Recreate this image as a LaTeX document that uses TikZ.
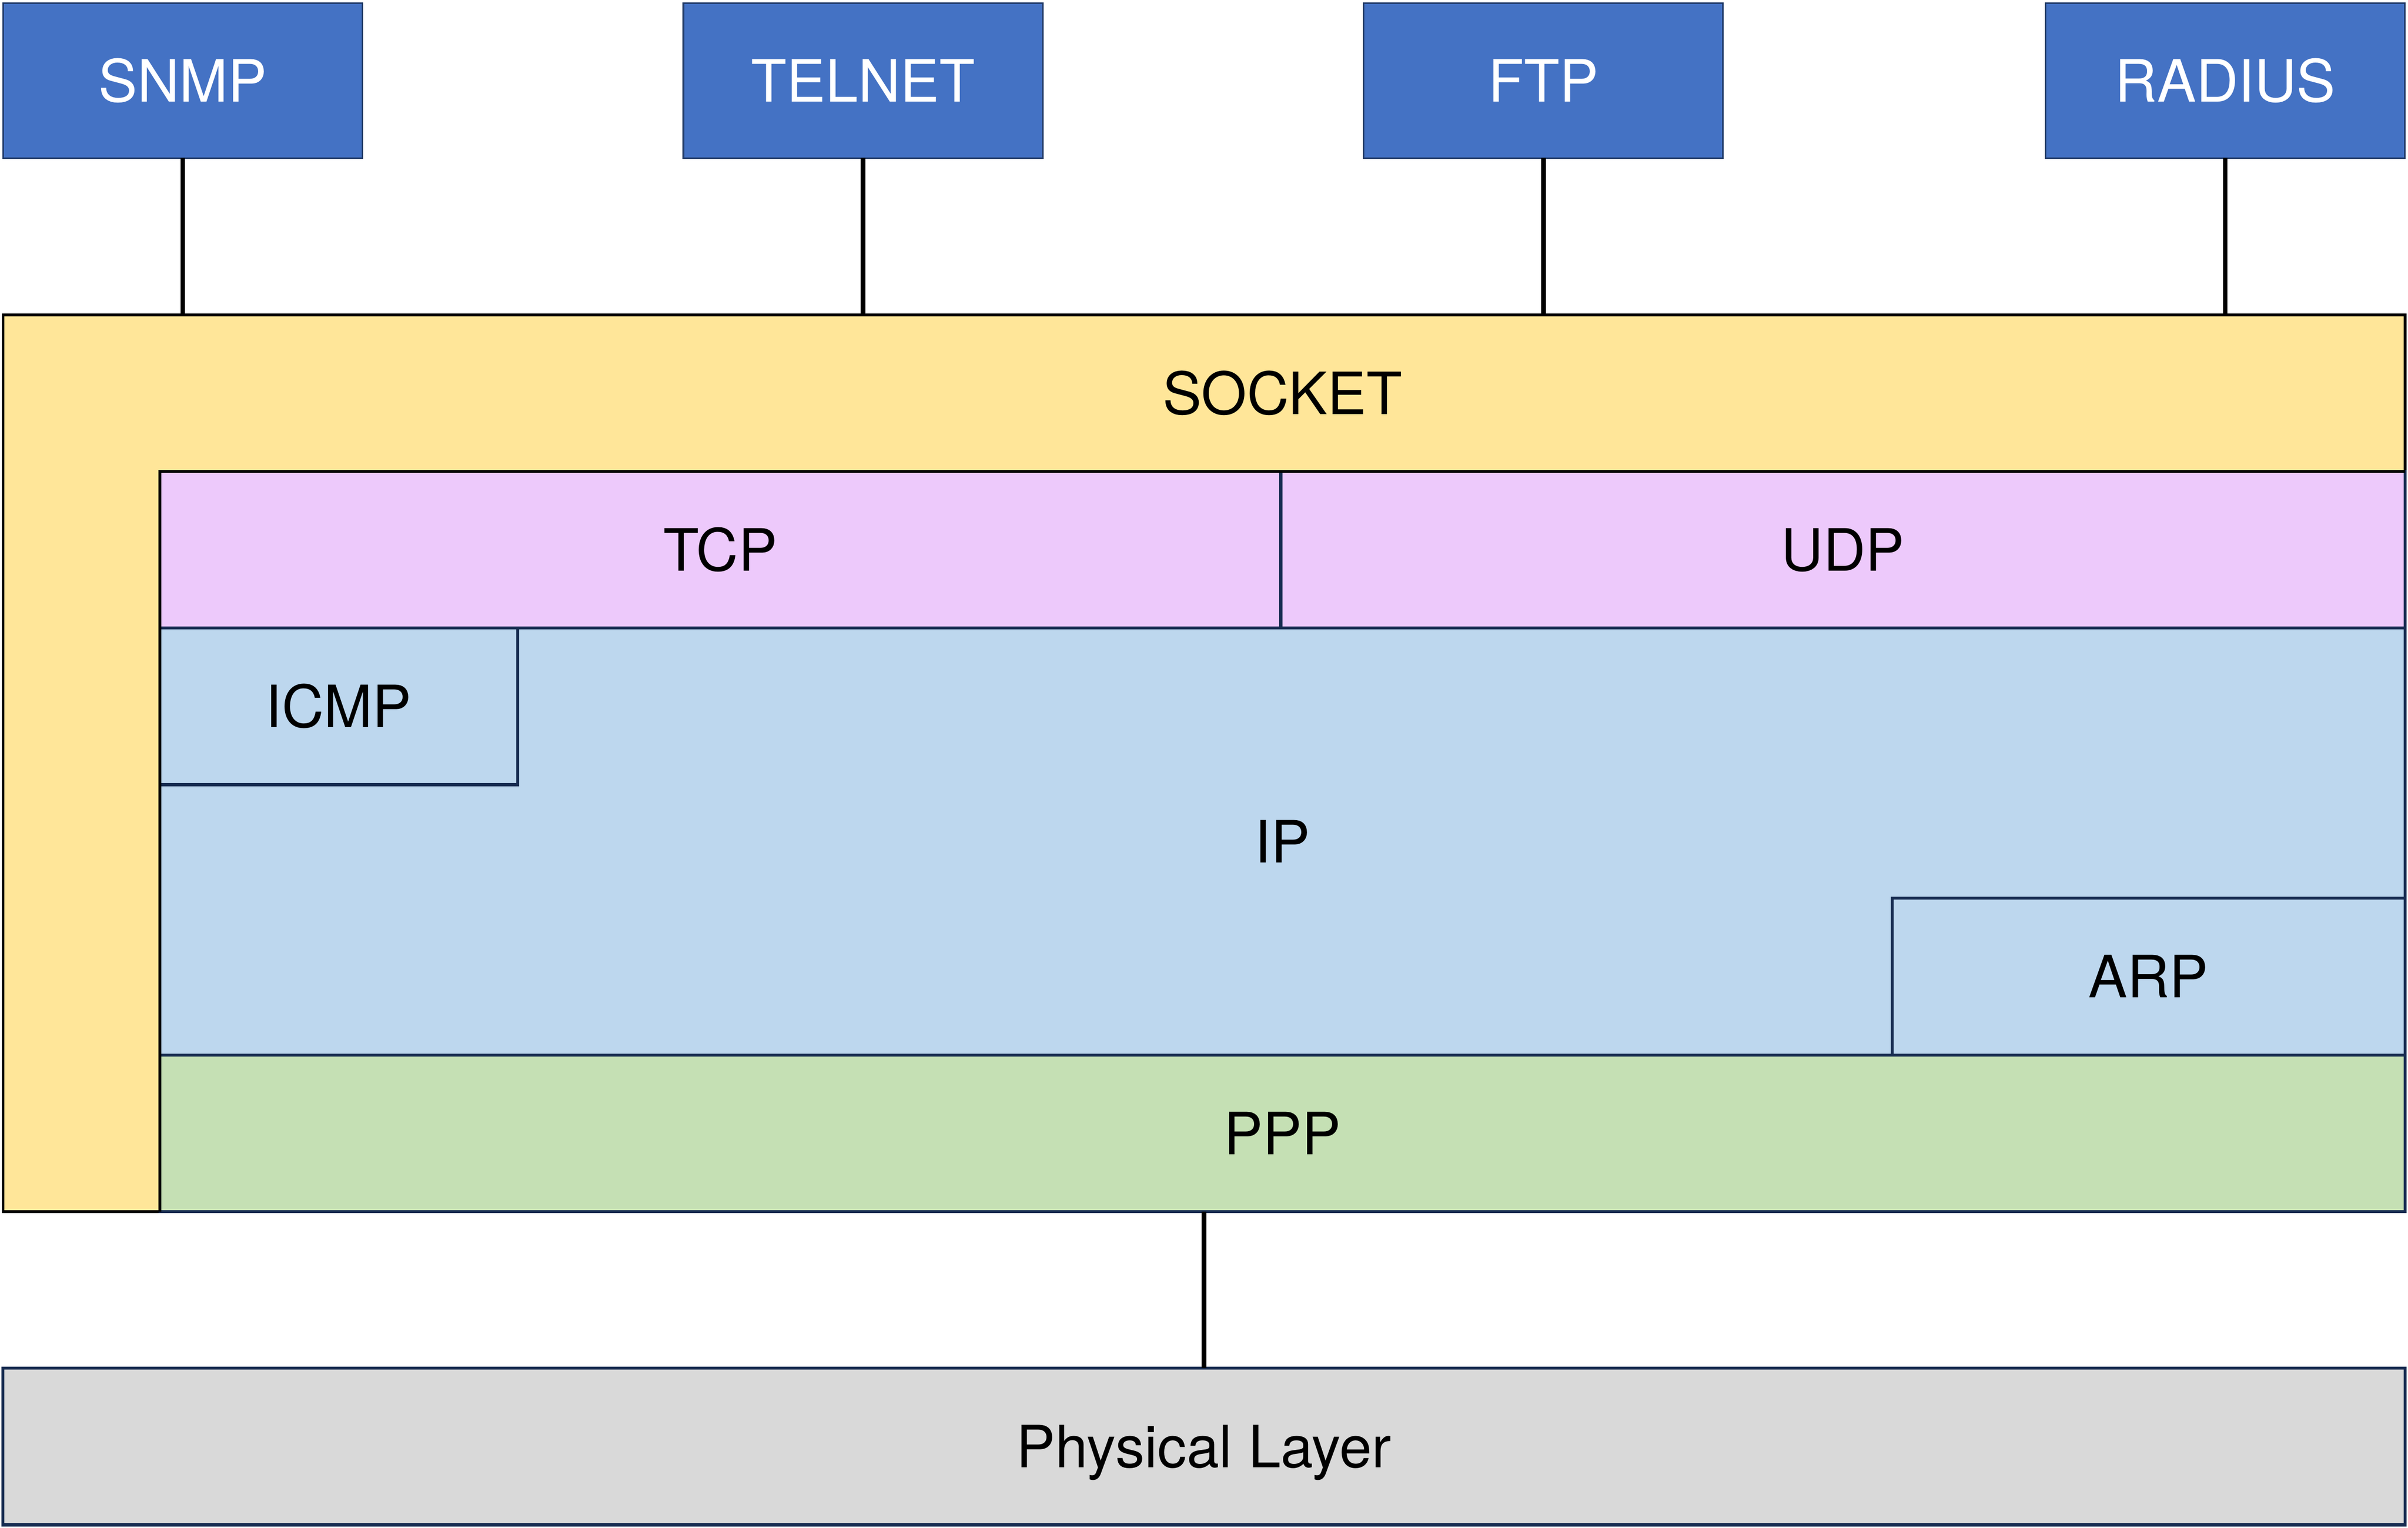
\documentclass[tikz,border=0pt]{standalone}
\usepackage{fontspec}
\setmainfont{TeX Gyre Heros}
\usetikzlibrary{positioning}
\definecolor{appblue}{HTML}{4472C4}
\definecolor{appedge}{HTML}{1F3864}
\definecolor{edgenavy}{HTML}{172C51}
\definecolor{sockyellow}{HTML}{FFE699}
\definecolor{tcppink}{HTML}{EDC9FB}
\definecolor{ipblue}{HTML}{BDD7EE}
\definecolor{pppgreen}{HTML}{C5E0B4}
\definecolor{physgrey}{HTML}{D9D9D9}

\begin{document}
\begin{tikzpicture}[
    x=1pt, y=-1pt,
    every node/.style={
        font=\fontsize{38}{46}\selectfont,
        inner sep=0pt, outer sep=0pt, text height=27.5pt, text depth=0pt,
    },
    app/.style={draw=appedge, line width=1pt, fill=appblue, text=white,
        minimum width=234pt, minimum height=101pt},
    layer/.style={draw=edgenavy, line width=1.9pt, anchor=north west},
    sockedge/.style={black, line width=1.8pt},
    wire/.style={line width=3pt},
]
    \useasboundingbox (0,0) rectangle (1568,995);
    % applications
    \node[app, anchor=north west] (snmp) at (2,2) {SNMP};
    \node[app, right=209pt of snmp] (telnet) {TELNET};
    \node[app, right=209pt of telnet] (ftp) {FTP};
    \node[app, right=210pt of ftp] (radius) {RADIUS};
    % socket
    \node[layer, draw=black, line width=1.8pt, fill=sockyellow,
        minimum width=1564pt, minimum height=584pt] (socket) at (2,205) {};
    \node (socketlabel) at (835,256) {SOCKET};
    % transport
    \node[layer, fill=tcppink, minimum width=730pt, minimum height=102pt] (tcp) at (104,307) {TCP};
    \node[layer, fill=tcppink, minimum width=732pt, minimum height=102pt, right=0pt of tcp] (udp) {UDP};
    % network
    \node[layer, fill=ipblue, minimum width=1462pt, minimum height=278pt] (ip) at (104,409) {IP};
    \node[layer, fill=ipblue, minimum width=233pt, minimum height=102pt] (icmp) at (ip.north west) {ICMP};
    \node[layer, fill=ipblue, anchor=south east, minimum width=334pt, minimum height=102pt] (arp) at (ip.south east) {ARP};
    % link
    \node[layer, fill=pppgreen, minimum width=1462pt, minimum height=102pt, below=0pt of ip] (ppp) {PPP};
    \draw[sockedge] (udp.north east) -- (tcp.north west) -- (ppp.south west);
    \node[layer, fill=physgrey, minimum width=1564pt, minimum height=102pt] (phys) at (2,891) {Physical Layer};
    % connectors
    \draw[wire] (snmp.south) -- (snmp.south |- socket.north);
    \draw[wire] (telnet.south) -- (telnet.south |- socket.north);
    \draw[wire] (ftp.south) -- (ftp.south |- socket.north);
    \draw[wire] (radius.south) -- (radius.south |- socket.north);
    \draw[wire] (phys.north |- ppp.south) -- (phys.north);
\end{tikzpicture}
\end{document}
